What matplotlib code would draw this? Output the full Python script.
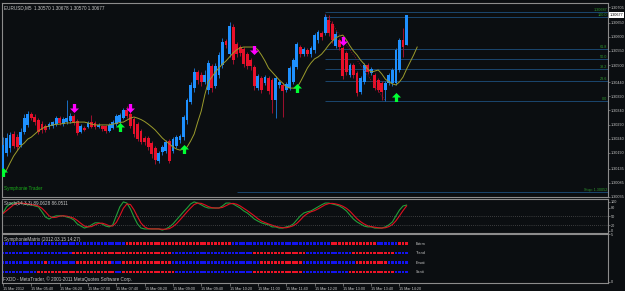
import matplotlib
matplotlib.use("Agg")
import matplotlib.pyplot as plt
from matplotlib.path import Path
import numpy as np

plt.rcParams['font.family'] = ['Liberation Sans', 'DejaVu Sans']

# ---------------- data ----------------
symbol_title = "EURUSD,M5  1.30570 1.30678 1.30570 1.30677"
last_price = 1.30677

opens = [1.30130, 1.30190, 1.30208, 1.30257, 1.30246, 1.30218, 1.30264, 1.30289, 1.30328, 1.30317,
         1.30306, 1.30292, 1.30285, 1.30282, 1.30285, 1.30292, 1.30313, 1.30292, 1.30299, 1.30303,
         1.30321, 1.30303, 1.30264, 1.30278, 1.30282, 1.30299, 1.30296, 1.30282, 1.30285, 1.30285,
         1.30268, 1.30278, 1.30292, 1.30299, 1.30313, 1.30342, 1.30328, 1.30310, 1.30292, 1.30268,
         1.30243, 1.30243, 1.30225, 1.30208, 1.30162, 1.30193, 1.30197, 1.30232, 1.30197, 1.30215,
         1.30236, 1.30246, 1.30306, 1.30370, 1.30419, 1.30476, 1.30465, 1.30441, 1.30412, 1.30497,
         1.30426, 1.30465, 1.30501, 1.30585, 1.30539, 1.30635, 1.30575, 1.30564, 1.30557, 1.30539,
         1.30518, 1.30494, 1.30419, 1.30455, 1.30437, 1.30455, 1.30448, 1.30377, 1.30430, 1.30430,
         1.30412, 1.30419, 1.30441, 1.30494, 1.30564, 1.30539, 1.30554, 1.30539, 1.30554, 1.30589,
         1.30614, 1.30614, 1.30659, 1.30645, 1.30568, 1.30589, 1.30561, 1.30543, 1.30465, 1.30501,
         1.30472, 1.30405, 1.30441, 1.30501, 1.30472, 1.30465, 1.30448, 1.30437, 1.30412, 1.30437,
         1.30437, 1.30437, 1.30483, 1.30589, 1.30570]
closes = [1.30218, 1.30243, 1.30253, 1.30215, 1.30211, 1.30264, 1.30313, 1.30328, 1.30313, 1.30299,
          1.30264, 1.30271, 1.30271, 1.30292, 1.30299, 1.30313, 1.30296, 1.30310, 1.30313, 1.30321,
          1.30296, 1.30260, 1.30285, 1.30271, 1.30296, 1.30282, 1.30282, 1.30289, 1.30275, 1.30268,
          1.30289, 1.30299, 1.30321, 1.30324, 1.30342, 1.30321, 1.30285, 1.30257, 1.30239, 1.30229,
          1.30229, 1.30211, 1.30186, 1.30165, 1.30190, 1.30211, 1.30229, 1.30162, 1.30239, 1.30246,
          1.30250, 1.30317, 1.30377, 1.30430, 1.30476, 1.30448, 1.30441, 1.30465, 1.30508, 1.30419,
          1.30497, 1.30536, 1.30582, 1.30571, 1.30638, 1.30518, 1.30539, 1.30543, 1.30504, 1.30497,
          1.30497, 1.30426, 1.30462, 1.30412, 1.30458, 1.30409, 1.30377, 1.30455, 1.30441, 1.30409,
          1.30434, 1.30490, 1.30518, 1.30575, 1.30539, 1.30557, 1.30539, 1.30561, 1.30606, 1.30617,
          1.30599, 1.30670, 1.30614, 1.30589, 1.30610, 1.30564, 1.30462, 1.30476, 1.30501, 1.30465,
          1.30402, 1.30455, 1.30501, 1.30476, 1.30486, 1.30419, 1.30412, 1.30405, 1.30437, 1.30465,
          1.30483, 1.30554, 1.30589, 1.30564, 1.30677]
highs = [1.30246, 1.30260, 1.30264, 1.30268, 1.30257, 1.30278, 1.30328, 1.30338, 1.30335, 1.30328,
         1.30313, 1.30303, 1.30292, 1.30299, 1.30303, 1.30321, 1.30321, 1.30317, 1.30377, 1.30331,
         1.30328, 1.30310, 1.30292, 1.30285, 1.30303, 1.30324, 1.30303, 1.30296, 1.30289, 1.30289,
         1.30296, 1.30306, 1.30328, 1.30331, 1.30349, 1.30356, 1.30342, 1.30317, 1.30299, 1.30275,
         1.30250, 1.30250, 1.30232, 1.30215, 1.30197, 1.30218, 1.30236, 1.30239, 1.30246, 1.30253,
         1.30257, 1.30324, 1.30384, 1.30441, 1.30490, 1.30483, 1.30476, 1.30483, 1.30518, 1.30504,
         1.30508, 1.30546, 1.30596, 1.30592, 1.30652, 1.30645, 1.30582, 1.30571, 1.30564, 1.30546,
         1.30525, 1.30501, 1.30469, 1.30462, 1.30465, 1.30462, 1.30455, 1.30462, 1.30448, 1.30437,
         1.30441, 1.30497, 1.30525, 1.30582, 1.30571, 1.30564, 1.30561, 1.30568, 1.30614, 1.30624,
         1.30621, 1.30681, 1.30677, 1.30656, 1.30621, 1.30596, 1.30568, 1.30550, 1.30508, 1.30508,
         1.30479, 1.30462, 1.30508, 1.30508, 1.30494, 1.30472, 1.30455, 1.30444, 1.30444, 1.30472,
         1.30490, 1.30561, 1.30596, 1.30631, 1.30678]
lows = [1.30112, 1.30179, 1.30193, 1.30208, 1.30200, 1.30211, 1.30257, 1.30282, 1.30306, 1.30289,
        1.30257, 1.30260, 1.30264, 1.30275, 1.30278, 1.30285, 1.30289, 1.30285, 1.30292, 1.30296,
        1.30289, 1.30253, 1.30260, 1.30268, 1.30278, 1.30278, 1.30275, 1.30278, 1.30268, 1.30260,
        1.30264, 1.30275, 1.30285, 1.30292, 1.30310, 1.30313, 1.30278, 1.30246, 1.30232, 1.30222,
        1.30218, 1.30200, 1.30172, 1.30151, 1.30155, 1.30183, 1.30190, 1.30155, 1.30190, 1.30208,
        1.30225, 1.30236, 1.30292, 1.30363, 1.30405, 1.30434, 1.30426, 1.30434, 1.30398, 1.30405,
        1.30419, 1.30455, 1.30490, 1.30561, 1.30529, 1.30504, 1.30529, 1.30532, 1.30494, 1.30486,
        1.30483, 1.30412, 1.30412, 1.30402, 1.30430, 1.30398, 1.30331, 1.30313, 1.30419, 1.30317,
        1.30405, 1.30412, 1.30434, 1.30486, 1.30529, 1.30532, 1.30532, 1.30529, 1.30543, 1.30578,
        1.30589, 1.30606, 1.30603, 1.30578, 1.30561, 1.30554, 1.30451, 1.30465, 1.30458, 1.30455,
        1.30391, 1.30398, 1.30434, 1.30469, 1.30465, 1.30412, 1.30405, 1.30377, 1.30374, 1.30430,
        1.30426, 1.30430, 1.30476, 1.30529, 1.30570]

ma_line = [1.30112, 1.30130, 1.30155, 1.30179, 1.30197, 1.30215, 1.30225, 1.30239, 1.30246, 1.30257,
           1.30268, 1.30276, 1.30282, 1.30285, 1.30289, 1.30291, 1.30292, 1.30294, 1.30296, 1.30296,
           1.30298, 1.30299, 1.30299, 1.30299, 1.30296, 1.30292, 1.30289, 1.30289, 1.30289, 1.30289,
           1.30289, 1.30292, 1.30294, 1.30298, 1.30299, 1.30306, 1.30313, 1.30317, 1.30313, 1.30308,
           1.30301, 1.30292, 1.30282, 1.30271, 1.30257, 1.30243, 1.30232, 1.30222, 1.30211, 1.30204,
           1.30200, 1.30204, 1.30211, 1.30232, 1.30257, 1.30299, 1.30338, 1.30395, 1.30441, 1.30458,
           1.30476, 1.30490, 1.30504, 1.30515, 1.30529, 1.30543, 1.30554, 1.30561, 1.30564, 1.30564,
           1.30564, 1.30564, 1.30554, 1.30536, 1.30515, 1.30490, 1.30476, 1.30462, 1.30448, 1.30437,
           1.30423, 1.30419, 1.30419, 1.30419, 1.30441, 1.30465, 1.30490, 1.30508, 1.30522, 1.30529,
           1.30539, 1.30554, 1.30571, 1.30585, 1.30596, 1.30603, 1.30606, 1.30589, 1.30568, 1.30550,
           1.30536, 1.30518, 1.30504, 1.30486, 1.30476, 1.30479, 1.30483, 1.30469, 1.30451, 1.30441,
           1.30434, 1.30430, 1.30441, 1.30458, 1.30486, 1.30511, 1.30536, 1.30564]

stoch_main = [62, 83, 93, 96, 96, 96, 93, 90, 90, 86, 83, 66, 48, 41, 48, 52, 52, 52, 48, 45,
              38, 24, 17, 10, 14, 21, 28, 28, 24, 17, 14, 21, 52, 83, 100, 96, 76, 48, 24, 10,
              7, 7, 7, 7, 7, 3, 7, 14, 24, 38, 52, 66, 79, 93, 100, 96, 90, 83, 79, 79,
              79, 79, 86, 96, 96, 93, 86, 79, 69, 62, 52, 41, 34, 28, 24, 21, 14, 14, 10, 10,
              14, 17, 24, 38, 52, 62, 66, 69, 76, 83, 90, 96, 96, 93, 90, 86, 79, 69, 55, 41,
              31, 24, 17, 14, 14, 10, 10, 10, 14, 21, 31, 52, 72, 86, 89.0628]
stoch_signal = [60, 70, 80, 90, 95, 96, 95, 93, 91, 89, 86, 78, 66, 52, 46, 47, 51, 52, 51, 48,
                44, 36, 26, 17, 14, 15, 21, 26, 27, 23, 18, 17, 29, 52, 78, 93, 91, 73, 49, 27,
                14, 8, 7, 7, 7, 6, 6, 8, 15, 25, 38, 52, 66, 79, 91, 96, 95, 90, 84, 80,
                79, 79, 81, 87, 93, 95, 92, 86, 78, 70, 61, 52, 42, 34, 29, 24, 20, 16, 13, 11,
                11, 14, 18, 26, 38, 51, 60, 66, 70, 76, 83, 90, 94, 95, 93, 90, 85, 78, 68, 55,
                42, 32, 24, 18, 15, 13, 11, 10, 11, 15, 22, 35, 52, 70, 86.0511]
stoch_title = "Stoch(14,3,3) 89.0628 86.0511"
stoch_levels = [50, 20]
stoch_ticks = [0, 20, 50, 80, 100]

down_arrow_bars = [20, 36, 71, 96]
down_arrow_prices = [1.30349, 1.30349, 1.30554, 1.30585]
up_arrow_bars = [0, 33, 51, 83, 111]
up_arrow_prices = [1.30123, 1.30282, 1.30204, 1.30419, 1.30388]

fib_ratios = [0.0, 23.6, 38.2, 50.0, 61.8, 100.0]
fib_low = 1.30372
fib_high = 1.30670
fib_start_bar = 91
fib_end_bar = 108
target_price = 1.30687
target_label = "1.30687"
stop_price = 1.30052
stop_label = "Stop: 1.30052"
stop_start_bar = 66

price_ticks = [1.30705, 1.30650, 1.30600, 1.30550, 1.30500, 1.30440, 1.30390,
               1.30340, 1.30290, 1.30240, 1.30190, 1.30135, 1.30085, 1.30035]

time_tick_bars = [0, 8, 16, 24, 32, 40, 48, 56, 64, 72, 80, 88, 96, 104, 112]
time_labels = ["15 Mar 2012", "15 Mar 05:40", "15 Mar 06:20", "15 Mar 07:00", "15 Mar 07:40",
               "15 Mar 08:20", "15 Mar 09:00", "15 Mar 09:40", "15 Mar 10:20", "15 Mar 11:00",
               "15 Mar 11:40", "15 Mar 12:20", "15 Mar 13:00", "15 Mar 13:40", "15 Mar 14:20"]

matrix_title = "SymphonieMatrix (2012.03.15 14:27)"
matrix_names = ["Extrm", "Trend", "Emoti", "Senti"]
# runs of (state, number of bars), B = bullish blue, R = bearish red
matrix_runs = [
    [("B", 35), ("R", 30), ("B", 28), ("R", 13), ("B", 6), ("R", 3)],
    [("B", 20), ("R", 28), ("B", 23), ("R", 15), ("B", 13), ("R", 12), ("B", 4)],
    [("B", 12), ("R", 1), ("B", 8), ("R", 10), ("B", 3), ("R", 14), ("B", 25), ("R", 12),
     ("B", 15), ("R", 9), ("B", 6)],
    [("B", 10), ("R", 22), ("B", 2), ("R", 15), ("B", 22), ("R", 14), ("B", 13), ("R", 13),
     ("B", 4)],
]
footer = "FXDD - MetaTrader, \u00a9 2001-2011 MetaQuotes Software Corp."
brand = "Symphonie Trader"

# ---------------- style ----------------
BG = "#0b0e11"
FRAME = "#8c8c8c"
TXT = "#c8c8c8"
UP = "#1e90ff"
DN = "#e8102a"
UPW = "#1a6fc4"
DNW = "#a0102e"
FIB = "#1d4f7d"
FIBTXT = "#2f9a2f"
FS = 3.3
FSA = 2.7

W, H = 625, 291
fig = plt.figure(figsize=(W / 100, H / 100), dpi=100, facecolor=BG)


def box(top, bot, left=2, right=608):
    return [left / W, 1 - bot / H, (right - left) / W, (bot - top) / H]


XL = (-0.28, 170.9)


def style(ax):
    ax.set_facecolor(BG)
    for s in ax.spines.values():
        s.set_color(FRAME)
        s.set_linewidth(0.8)
    ax.set_xlim(*XL)
    ax.yaxis.tick_right()
    ax.tick_params(axis="y", colors=FRAME, labelcolor=TXT, labelsize=FSA, length=1.5, pad=0.6,
                   width=0.5)
    ax.tick_params(axis="x", bottom=False, labelbottom=False)


# ---------------- main price panel ----------------
ax = fig.add_axes(box(3, 197))
style(ax)
ax.set_ylim(1.300346, 1.307194)
x = np.arange(len(closes))
o = np.array(opens); c = np.array(closes); hi = np.array(highs); lo = np.array(lows)
up = c >= o
ax.vlines(x[up], lo[up], hi[up], color=UPW, lw=0.7, zorder=2)
ax.vlines(x[~up], lo[~up], hi[~up], color=DNW, lw=0.7, zorder=2)
ax.bar(x[up], (c - o)[up], bottom=o[up], width=0.8, color=UP, lw=0, zorder=3)
ax.bar(x[~up], (o - c)[~up], bottom=c[~up], width=0.8, color=DN, lw=0, zorder=3)

ax.plot(np.arange(len(ma_line)), ma_line, color="#9c9c2c", lw=0.7, zorder=4)

# fibonacci
for r in fib_ratios:
    lvl = fib_low + (fib_high - fib_low) * r / 100.0
    ax.hlines(lvl, fib_start_bar, XL[1], color=FIB, lw=0.6, zorder=1)
    ax.text(XL[1] - 0.3, lvl, f"{r:.1f}", color=FIBTXT, fontsize=FSA, ha="right", va="bottom", zorder=5)
ax.hlines(target_price, fib_start_bar, XL[1], color=FIB, lw=0.6, zorder=1)
ax.text(XL[1] - 0.3, target_price, target_label, color=FIBTXT, fontsize=FSA, ha="right", va="bottom")
ax.plot([fib_start_bar, fib_end_bar], [highs[fib_start_bar], lows[fib_end_bar]],
        color="#a01028", lw=0.6, ls=":", zorder=4)
ax.hlines(stop_price, stop_start_bar, XL[1], color=FIB, lw=0.6, zorder=1)
ax.text(XL[1] - 0.3, stop_price, stop_label, color=FIBTXT, fontsize=FSA, ha="right", va="bottom")

# arrows
dn_path = Path([(-0.18, 0.5), (0.18, 0.5), (0.18, 0.0), (0.5, 0.0), (0.0, -0.5), (-0.5, 0.0),
                (-0.18, 0.0), (-0.18, 0.5)], closed=True)
up_path = Path([(-0.18, -0.5), (0.18, -0.5), (0.18, 0.0), (0.5, 0.0), (0.0, 0.5), (-0.5, 0.0),
                (-0.18, 0.0), (-0.18, -0.5)], closed=True)
ax.plot(down_arrow_bars, down_arrow_prices, ls="none", marker=dn_path, ms=6.5, color="#ff00ff",
        mec="none", zorder=6)
ax.plot(up_arrow_bars, up_arrow_prices, ls="none", marker=up_path, ms=6.5, color="#00ff33",
        mec="none", zorder=6)

ax.set_yticks(price_ticks)
ax.set_yticklabels([f"{p:.5f}" for p in price_ticks])
ax.text(0.003, 0.988, symbol_title, transform=ax.transAxes, color=TXT, fontsize=FS, va="top")
ax.text(0.003, 0.03, brand, transform=ax.transAxes, color="#19b019", fontsize=FS, va="bottom")
# current price marker
ax.text(1.002, last_price, f"{last_price:.5f}", transform=ax.get_yaxis_transform(), fontsize=FSA,
        color="black", va="center", ha="left",
        bbox=dict(boxstyle="square,pad=0.15", fc="white", ec="none"))

# ---------------- stochastic panel ----------------
a2 = fig.add_axes(box(199, 233))
style(a2)
a2.set_ylim(-7, 110)
a2.plot(np.arange(len(stoch_main)), stoch_main, color="#22a03a", lw=0.8)
a2.plot(np.arange(len(stoch_signal)), stoch_signal, color="#e01020", lw=0.8)
for lv in stoch_levels:
    a2.axhline(lv, color="#6a6a6a", lw=0.5, ls=(0, (1, 2)))
a2.set_yticks(stoch_ticks)
a2.set_yticklabels([str(t) for t in stoch_ticks])
a2.text(0.003, 0.93, stoch_title, transform=a2.transAxes, color=TXT, fontsize=FS, va="top")

# ---------------- matrix panel ----------------
a3 = fig.add_axes(box(234, 283))
style(a3)
a3.set_ylim(-0.15, 5.0)
for k, runs in enumerate(matrix_runs):
    row_v = 4 - k
    pos = 0
    for state, n in runs:
        xs = np.arange(pos, pos + n)
        a3.bar(xs, 0.3, bottom=row_v - 0.15, width=0.75, lw=0,
               color="#1414f0" if state == "B" else "#f01428")
        pos += n
    a3.text(pos + 1.5, row_v, matrix_names[k], color=TXT, fontsize=FSA, va="center", ha="left")
a3.text(0.003, 0.94, matrix_title, transform=a3.transAxes, color=TXT, fontsize=FS, va="top")
a3.text(0.002, 0.03, footer, transform=a3.transAxes, color=TXT, fontsize=FS, va="bottom")
a3.set_yticks([0, 5])
a3.set_yticklabels(["0", "5"])
a3.tick_params(axis="x", bottom=True, labelbottom=True, colors=FRAME, labelcolor=TXT,
               labelsize=FSA, length=2, pad=1, width=0.5)
a3.set_xticks(time_tick_bars)
a3.set_xticklabels(time_labels, ha="left")

fig.savefig("out.png", dpi=100, facecolor=BG)
